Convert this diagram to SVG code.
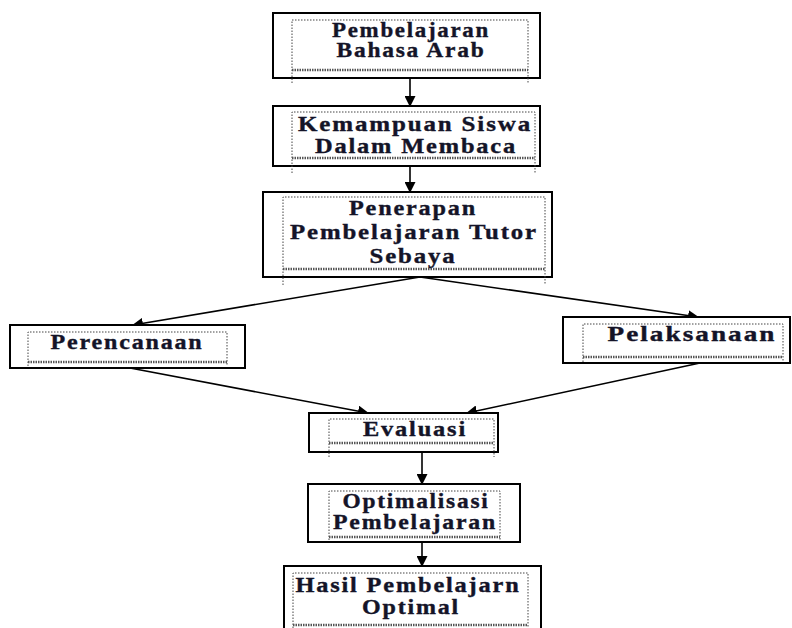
<svg xmlns="http://www.w3.org/2000/svg" width="792" height="628" viewBox="0 0 792 628">
<defs>
<marker id="ah" markerWidth="11" markerHeight="11" refX="10" refY="5.5" orient="auto" markerUnits="userSpaceOnUse">
<path d="M0,0 L11,5.5 L0,11 Z" fill="#000"/>
</marker>
<style>
.outer{fill:#fff;stroke:#000;stroke-width:2}
.inner{fill:none;stroke:#444;stroke-width:1;stroke-dasharray:1.5,1.5}
.wavy{fill:none;stroke:#555;stroke-width:2.5;stroke-dasharray:1.5,1}
.t{font-family:"Liberation Serif","Times New Roman",serif;font-weight:bold;font-size:20px;letter-spacing:1.5px;fill:#141428;stroke:#141428;stroke-width:0.35;text-anchor:middle}
.c{fill:none;stroke:#000;stroke-width:1.6}
</style>
</defs>
<rect width="792" height="628" fill="#fff"/>

<g id="connectors">
<line class="c" x1="410" y1="78" x2="410" y2="106" marker-end="url(#ah)"/>
<line class="c" x1="410" y1="166" x2="410" y2="192" marker-end="url(#ah)"/>
<line class="c" x1="420" y1="277" x2="133" y2="325" marker-end="url(#ah)"/>
<line class="c" x1="420" y1="277" x2="698" y2="317" marker-end="url(#ah)"/>
<line class="c" x1="130" y1="368" x2="368" y2="413" marker-end="url(#ah)"/>
<line class="c" x1="700" y1="363" x2="467" y2="413" marker-end="url(#ah)"/>
<line class="c" x1="422" y1="452" x2="422" y2="484" marker-end="url(#ah)"/>
<line class="c" x1="422" y1="542" x2="422" y2="566" marker-end="url(#ah)"/>
</g>

<g id="n1">
<rect class="outer" x="273" y="13" width="267" height="65"/>
<path class="inner" d="M292,83 V20 H528 V83"/>
<line class="wavy" x1="292" y1="70" x2="528" y2="70"/>
<text class="t" x="411" y="37" textLength="158" lengthAdjust="spacingAndGlyphs">Pembelajaran</text>
<text class="t" x="411" y="57" textLength="149" lengthAdjust="spacingAndGlyphs">Bahasa Arab</text>
</g>

<g id="n2">
<rect class="outer" x="273" y="106" width="267" height="60"/>
<path class="inner" d="M292,173 V112 H535 V173"/>
<line class="wavy" x1="292" y1="158" x2="535" y2="158"/>
<text class="t" x="415" y="131" textLength="234" lengthAdjust="spacingAndGlyphs">Kemampuan Siswa</text>
<text class="t" x="416" y="153" textLength="202" lengthAdjust="spacingAndGlyphs">Dalam Membaca</text>
</g>

<g id="n3">
<rect class="outer" x="263" y="192" width="289" height="85"/>
<path class="inner" d="M283,285 V197 H545 V285"/>
<line class="wavy" x1="283" y1="269" x2="545" y2="269"/>
<text class="t" x="413" y="215" textLength="128" lengthAdjust="spacingAndGlyphs">Penerapan</text>
<text class="t" x="414" y="239" textLength="248" lengthAdjust="spacingAndGlyphs">Pembelajaran Tutor</text>
<text class="t" x="413" y="263" textLength="87" lengthAdjust="spacingAndGlyphs">Sebaya</text>
</g>

<g id="n4">
<rect class="outer" x="10" y="325" width="235" height="43"/>
<path class="inner" d="M28,366 V332 H227 V366"/>
<line class="wavy" x1="28" y1="362" x2="227" y2="362"/>
<text class="t" x="127" y="349" textLength="153" lengthAdjust="spacingAndGlyphs">Perencanaan</text>
</g>

<g id="n5">
<rect class="outer" x="563" y="317" width="227" height="46"/>
<path class="inner" d="M583,362 V324 H783 V362"/>
<line class="wavy" x1="583" y1="357" x2="783" y2="357"/>
<text class="t" x="692" y="341" textLength="169" lengthAdjust="spacingAndGlyphs">Pelaksanaan</text>
</g>

<g id="n6">
<rect class="outer" x="309" y="413" width="189" height="39"/>
<path class="inner" d="M329,457 V419 H494 V457"/>
<line class="wavy" x1="329" y1="443" x2="494" y2="443"/>
<text class="t" x="415" y="436" textLength="104" lengthAdjust="spacingAndGlyphs">Evaluasi</text>
</g>

<g id="n7">
<rect class="outer" x="308" y="484" width="212" height="58"/>
<path class="inner" d="M329,540 V491 H500 V540"/>
<line class="wavy" x1="329" y1="537" x2="500" y2="537"/>
<text class="t" x="416" y="508" textLength="147" lengthAdjust="spacingAndGlyphs">Optimalisasi</text>
<text class="t" x="415" y="529" textLength="164" lengthAdjust="spacingAndGlyphs">Pembelajaran</text>
</g>

<g id="n8">
<rect class="outer" x="284" y="566" width="257" height="80"/>
<path class="inner" d="M293,628 V573 H528 V628"/>
<line class="wavy" x1="293" y1="625" x2="528" y2="625"/>
<text class="t" x="408" y="592" textLength="225" lengthAdjust="spacingAndGlyphs">Hasil Pembelajarn</text>
<text class="t" x="411" y="614" textLength="98" lengthAdjust="spacingAndGlyphs">Optimal</text>
</g>
</svg>
